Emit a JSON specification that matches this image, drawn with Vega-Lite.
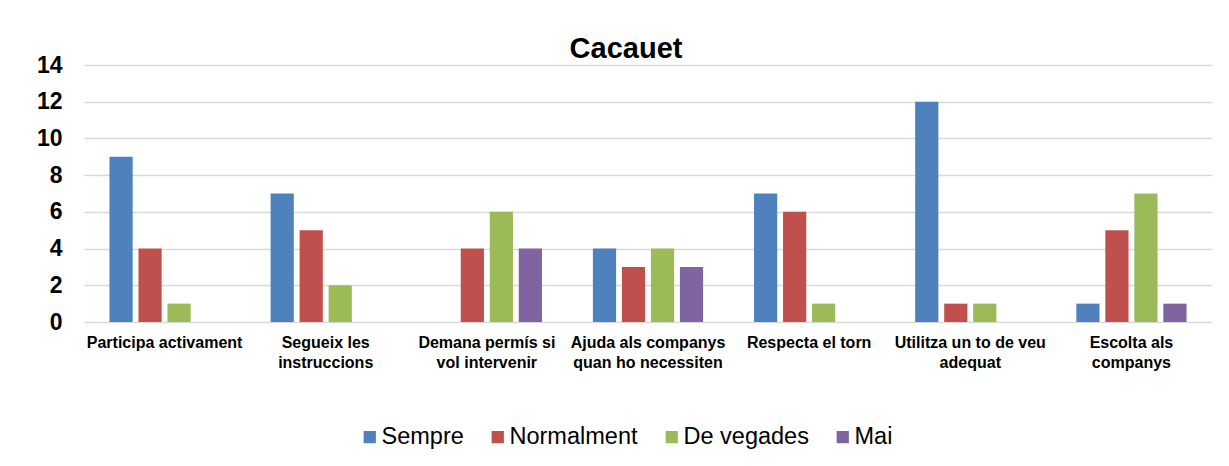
{
  "$schema": "https://vega.github.io/schema/vega-lite/v6.json",
  "width": 1128,
  "height": 257,
  "padding": {"left": 36, "top": 35, "right": 17, "bottom": 10},
  "background": "white",
  "title": {"text": "Cacauet", "fontSize": 29, "font": "Liberation Sans", "fontWeight": "bold", "color": "black", "offset": -10, "dx": -22},
  "data": {
    "values": [
      {"cat": "Participa activament", "serie": "Sempre", "v": 9},
      {"cat": "Participa activament", "serie": "Normalment", "v": 4},
      {"cat": "Participa activament", "serie": "De vegades", "v": 1},
      {"cat": "Participa activament", "serie": "Mai", "v": 0},
      {"cat": "Segueix les instruccions", "serie": "Sempre", "v": 7},
      {"cat": "Segueix les instruccions", "serie": "Normalment", "v": 5},
      {"cat": "Segueix les instruccions", "serie": "De vegades", "v": 2},
      {"cat": "Segueix les instruccions", "serie": "Mai", "v": 0},
      {"cat": "Demana permís si vol intervenir", "serie": "Sempre", "v": 0},
      {"cat": "Demana permís si vol intervenir", "serie": "Normalment", "v": 4},
      {"cat": "Demana permís si vol intervenir", "serie": "De vegades", "v": 6},
      {"cat": "Demana permís si vol intervenir", "serie": "Mai", "v": 4},
      {"cat": "Ajuda als companys quan ho necessiten", "serie": "Sempre", "v": 4},
      {"cat": "Ajuda als companys quan ho necessiten", "serie": "Normalment", "v": 3},
      {"cat": "Ajuda als companys quan ho necessiten", "serie": "De vegades", "v": 4},
      {"cat": "Ajuda als companys quan ho necessiten", "serie": "Mai", "v": 3},
      {"cat": "Respecta el torn", "serie": "Sempre", "v": 7},
      {"cat": "Respecta el torn", "serie": "Normalment", "v": 6},
      {"cat": "Respecta el torn", "serie": "De vegades", "v": 1},
      {"cat": "Respecta el torn", "serie": "Mai", "v": 0},
      {"cat": "Utilitza un to de veu adequat", "serie": "Sempre", "v": 12},
      {"cat": "Utilitza un to de veu adequat", "serie": "Normalment", "v": 1},
      {"cat": "Utilitza un to de veu adequat", "serie": "De vegades", "v": 1},
      {"cat": "Utilitza un to de veu adequat", "serie": "Mai", "v": 0},
      {"cat": "Escolta als companys", "serie": "Sempre", "v": 1},
      {"cat": "Escolta als companys", "serie": "Normalment", "v": 5},
      {"cat": "Escolta als companys", "serie": "De vegades", "v": 7},
      {"cat": "Escolta als companys", "serie": "Mai", "v": 1}
    ]
  },
  "mark": {"type": "bar"},
  "encoding": {
    "x": {
      "field": "cat", "type": "nominal", "sort": null, "title": null,
      "scale": {"paddingInner": 0.28, "paddingOuter": 0.14},
      "axis": {
        "labelAngle": 0, "ticks": false, "domain": false, "grid": false,
        "labelFont": "Liberation Sans", "labelFontSize": 16, "labelFontWeight": "bold", "labelColor": "black",
        "labelPadding": 12, "labelLineHeight": 20, "labelBaseline": "top", "labelLimit": 0,
        "labelExpr": "datum.label == 'Segueix les instruccions' ? ['Segueix les', 'instruccions'] : datum.label == 'Demana permís si vol intervenir' ? ['Demana permís si', 'vol intervenir'] : datum.label == 'Ajuda als companys quan ho necessiten' ? ['Ajuda als companys', 'quan ho necessiten'] : datum.label == 'Utilitza un to de veu adequat' ? ['Utilitza un to de veu', 'adequat'] : datum.label == 'Escolta als companys' ? ['Escolta als', 'companys'] : datum.label"
      }
    },
    "xOffset": {
      "field": "serie", "type": "nominal", "sort": ["Sempre", "Normalment", "De vegades", "Mai"],
      "scale": {"paddingInner": 0.2, "paddingOuter": 0.1}
    },
    "y": {
      "field": "v", "type": "quantitative", "title": null,
      "scale": {"domain": [0, 14], "nice": false},
      "axis": {
        "values": [0, 2, 4, 6, 8, 10, 12, 14], "ticks": false, "domain": false,
        "grid": true, "gridColor": "#D9D9D9", "gridWidth": 1.5,
        "labelFont": "Liberation Sans", "labelFontSize": 23, "labelFontWeight": "bold", "labelColor": "black",
        "labelPadding": 22
      }
    },
    "color": {
      "field": "serie", "type": "nominal", "sort": ["Sempre", "Normalment", "De vegades", "Mai"],
      "scale": {"domain": ["Sempre", "Normalment", "De vegades", "Mai"], "range": ["#4F81BD", "#C0504D", "#9BBB59", "#8064A2"]},
      "legend": {
        "orient": "none", "legendX": 274, "legendY": 360, "direction": "horizontal", "title": null,
        "symbolType": "square", "symbolSize": 150, "symbolStrokeWidth": 0,
        "labelFont": "Liberation Sans", "labelFontSize": 23.5, "labelColor": "black",
        "labelOffset": 0, "columnPadding": 22
      }
    }
  },
  "config": {
    "view": {"stroke": null}
  }
}
